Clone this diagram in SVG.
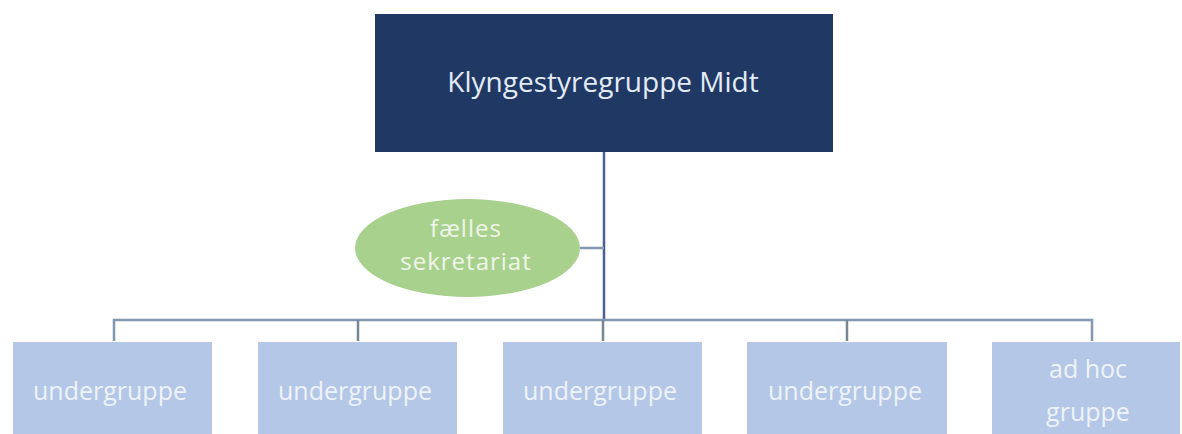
<svg xmlns="http://www.w3.org/2000/svg" width="1182" height="434" viewBox="0 0 1182 434">
<style>
text{font-family:"Open Sans","Liberation Sans",sans-serif;text-anchor:middle}
.sub{fill:#b4c7e7}
.subt{fill:#eef3fa;font-size:25px}
.conn{fill:none;stroke:#8497b0;stroke-width:2.5}
.ell{fill:#eef5e8;font-size:24px;letter-spacing:1px}
</style>
<rect width="1182" height="434" fill="#ffffff"/>
<g id="connectors">
<path class="conn" d="M604 152V320" style="stroke:#4a5f9a"/>
<path class="conn" d="M580 248H604"/>
<path class="conn" d="M114 341V320H1092V341"/>
<path class="conn" d="M358 320V341M603 320V341M847 320V341" style="stroke:#7a8594"/>
</g>
<g id="top">
<rect x="375" y="14" width="458" height="138" fill="#203864"/>
<text x="603" y="92" font-size="28" fill="#e3ebf6">Klyngestyregruppe Midt</text>
</g>
<g id="secretariat">
<ellipse cx="467.5" cy="248" rx="112.5" ry="49" fill="#a9d18e"/>
<text class="ell" x="466" y="237">fælles</text>
<text class="ell" x="466" y="270">sekretariat</text>
</g>
<g id="sub1"><rect class="sub" x="13" y="342" width="199" height="92"/><text class="subt" x="110" y="400">undergruppe</text></g>
<g id="sub2"><rect class="sub" x="258" y="342" width="199" height="92"/><text class="subt" x="355" y="400">undergruppe</text></g>
<g id="sub3"><rect class="sub" x="503" y="342" width="199" height="92"/><text class="subt" x="600" y="400">undergruppe</text></g>
<g id="sub4"><rect class="sub" x="747" y="342" width="200" height="92"/><text class="subt" x="845" y="400">undergruppe</text></g>
<g id="sub5"><rect class="sub" x="992" y="342" width="188" height="92"/><text class="subt" x="1088" y="378">ad hoc</text><text class="subt" x="1088" y="421">gruppe</text></g>
</svg>
